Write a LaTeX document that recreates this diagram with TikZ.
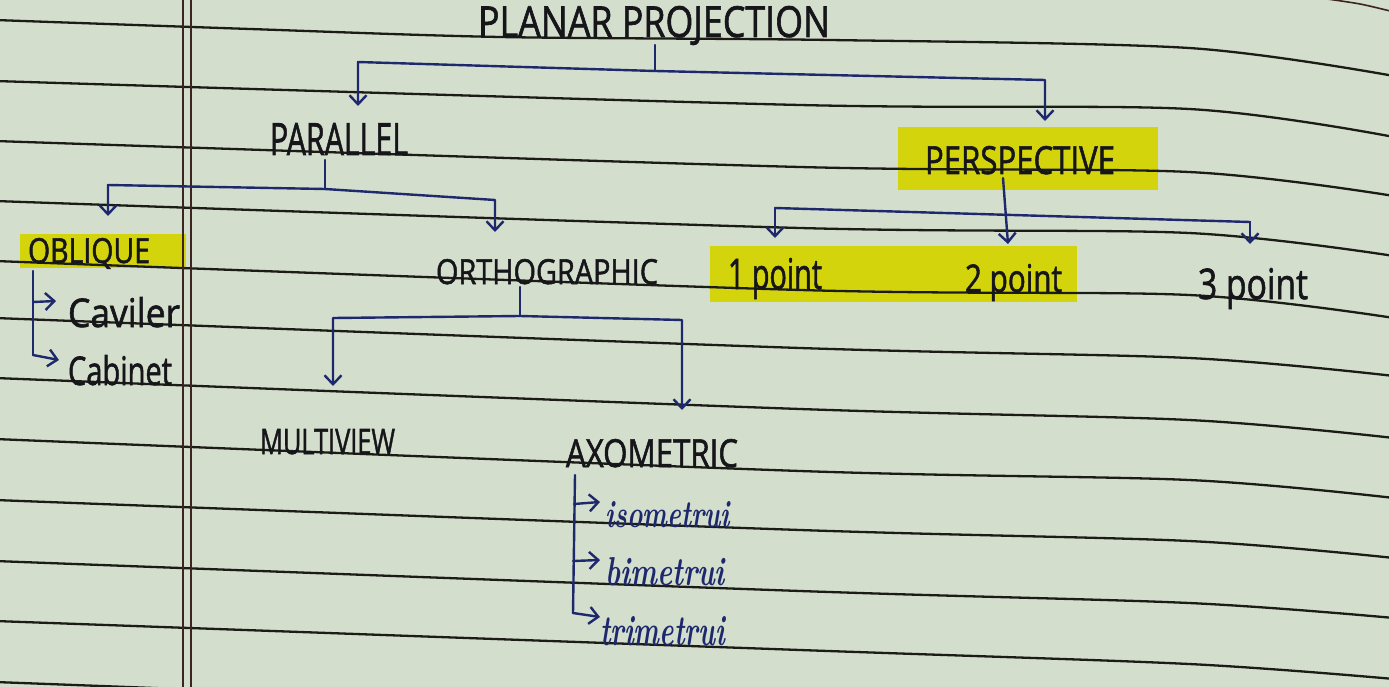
\documentclass[tikz,border=0pt]{standalone}
\usepackage{fontspec}
\usepackage{graphicx}
\usetikzlibrary{arrows.meta}
\newfontfamily\capsfont[FakeBold=1.6]{Open Sans}
\definecolor{paper}{RGB}{211,222,205}
\definecolor{hl}{RGB}{212,212,12}
\definecolor{ink}{RGB}{22,22,26}
\definecolor{navy}{RGB}{30,40,108}
\definecolor{rulecol}{RGB}{28,28,22}
\definecolor{margincol}{RGB}{60,36,34}
\newcommand{\fitbox}[3]{\resizebox{#1pt}{#2pt}{#3}}
\tikzset{
  lbl/.style={inner sep=0pt, outer sep=0pt, anchor=base west, text=ink},
  cur/.style={lbl, text=navy},
  conn/.style={draw=navy, line width=2.4pt, line cap=round, line join=round},
  arr/.style={conn, -{Straight Barb[length=9pt,width=17pt]}},
  ruled/.style={draw=rulecol, line width=2.3pt},
  marginline/.style={draw=margincol, line width=2pt},
  hilite/.style={fill=hl, draw=none},
}
\begin{document}
\begin{tikzpicture}[x=1pt,y=-1pt]
\useasboundingbox (0,0) rectangle (1389,687);
\fill[paper] (0,0) rectangle (1389,687);
\clip (0,0) rectangle (1389,687);
% highlights
\fill[hilite] (20,234) rectangle (186,268);
\fill[hilite] (898,127) rectangle (1158,190);
\fill[hilite] (710,246) rectangle (1077,302);
% ruled lines
\draw[ruled] plot[smooth] coordinates {(-5,20) (250,29) (500,37) (830,40) (1189,48) (1394,76)};
\draw[ruled] plot[smooth] coordinates {(-5,81) (800,105) (1189,109) (1394,137)};
\draw[ruled] plot[smooth] coordinates {(-5,141) (800,167) (1189,172) (1394,196)};
\draw[ruled] plot[smooth] coordinates {(-5,201) (800,228) (1189,233) (1394,256)};
\draw[ruled] plot[smooth] coordinates {(-5,261) (800,290) (1189,295) (1394,318)};
\draw[ruled] plot[smooth] coordinates {(-5,318) (800,348) (1189,358) (1394,376)};
\draw[ruled] plot[smooth] coordinates {(-5,378) (800,409) (1189,420) (1394,438)};
\draw[ruled] plot[smooth] coordinates {(-5,439) (800,471) (1189,480) (1394,498)};
\draw[ruled] plot[smooth] coordinates {(-5,500) (800,530) (1189,541) (1394,558)};
\draw[ruled] plot[smooth] coordinates {(-5,561) (800,591) (1189,603) (1394,618)};
\draw[ruled] plot[smooth] coordinates {(-5,621) (800,650) (1189,664) (1394,679)};
\draw[ruled] plot[smooth] coordinates {(-5,682) (800,712) (1189,724) (1394,739)};
\draw[draw=margincol, line width=1.6pt] plot[smooth] coordinates {(1320,-2) (1360,4) (1394,12)};
% margin
\draw[marginline] (183,0) -- (183,687);
\draw[marginline] (191,0) -- (191,687);

% labels
\node[lbl] (pp)   at (478,37)  {\fitbox{352}{31}{\capsfont PLANAR PROJECTION}};
\node[lbl] (par)  at (270,155) {\fitbox{138}{32}{\capsfont PARALLEL}};
\node[lbl] (per)  at (925,174) {\fitbox{190}{28}{\capsfont PERSPECTIVE}};
\node[lbl] (obl)  at (28,263)  {\fitbox{122}{25}{\capsfont OBLIQUE}};
\node[lbl] (cav)  at (68,327)  {\fitbox{112}{30}{\capsfont Caviler}};
\node[lbl] (cab)  at (68,385)  {\fitbox{104}{30}{\capsfont Cabinet}};
\node[lbl] (orth) at (436,284) {\fitbox{222}{25}{\capsfont ORTHOGRAPHIC}};
\node[lbl] (mv)   at (260,454) {\fitbox{135}{25}{\capsfont MULTIVIEW}};
\node[lbl] (axo)  at (566,467) {\fitbox{172}{28}{\capsfont AXOMETRIC}};
\node[cur] (iso)  at (605,527) {\fitbox{125}{26}{\bfseries\itshape isometrui}};
\node[cur] (bim)  at (605,585) {\fitbox{120}{28}{\bfseries\itshape bimetrui}};
\node[cur] (tri)  at (600,645) {\fitbox{125}{29}{\bfseries\itshape trimetrui}};
\node[lbl] (p1)   at (728,289) {\fitbox{94}{31}{\capsfont 1 point}};
\node[lbl] (p2)   at (965,292) {\fitbox{97}{28}{\capsfont 2 point}};
\node[lbl] (p3)   at (1198,299) {\fitbox{110}{31}{\capsfont 3 point}};

% connector coordinates
\coordinate (ppj) at (655,71);
\coordinate (ppl) at (358,62);
\coordinate (ppr) at (1045,80);
\coordinate (ppla) at (358,106);
\coordinate (ppra) at (1045,121);

\coordinate (pars) at (325,160);
\coordinate (parj) at (325,189);
\coordinate (parl) at (108,185);
\coordinate (parr) at (495,200);
\coordinate (parla) at (108,216);
\coordinate (parra) at (495,232);

\coordinate (obls) at (33,271);
\coordinate (oblm) at (33,302);
\coordinate (oblb) at (33,355);
\coordinate (cava) at (56,301);
\coordinate (caba) at (59,360);

\coordinate (orths) at (520,287);
\coordinate (orthj) at (520,316);
\coordinate (orthl) at (333,318);
\coordinate (orthr) at (682,320);
\coordinate (orthla) at (333,386);
\coordinate (orthra) at (682,410);

\coordinate (axos) at (575,475);
\coordinate (axo1) at (574,504);
\coordinate (axo2) at (573,561);
\coordinate (axob) at (573,613);
\coordinate (isoa) at (600,502);
\coordinate (bima) at (600,560);
\coordinate (tria) at (600,617);

\coordinate (pers) at (1003,178);
\coordinate (perc) at (1008,244);
\coordinate (perl) at (775,208);
\coordinate (perr) at (1250,222);
\coordinate (perla) at (775,238);
\coordinate (perra) at (1250,244);

% connectors
\draw[conn] (pp.south -| ppj) -- (ppj);
\draw[arr] (ppj) -- (ppl) -- (ppla);
\draw[arr] (ppj) -- (ppr) -- (ppra);

\draw[conn] (pars) -- (parj);
\draw[arr] (parj) -- (parl) -- (parla);
\draw[arr] (parj) -- (parr) -- (parra);

\draw[conn] (obls) -- (oblb);
\draw[arr] (oblm) -- (cava);
\draw[arr] (oblb) -- (caba);

\draw[conn] (orths) -- (orthj);
\draw[arr] (orthj) -- (orthl) -- (orthla);
\draw[arr] (orthj) -- (orthr) -- (orthra);

\draw[conn] (axos) -- (axob);
\draw[arr] (axo1) -- (isoa);
\draw[arr] (axo2) -- (bima);
\draw[arr] (axob) -- (tria);

\draw[arr] (pers) -- (perc);
\draw[conn] (perl) -- (perr);
\draw[arr] (perl) -- (perla);
\draw[arr] (perr) -- (perra);
\end{tikzpicture}
\end{document}
